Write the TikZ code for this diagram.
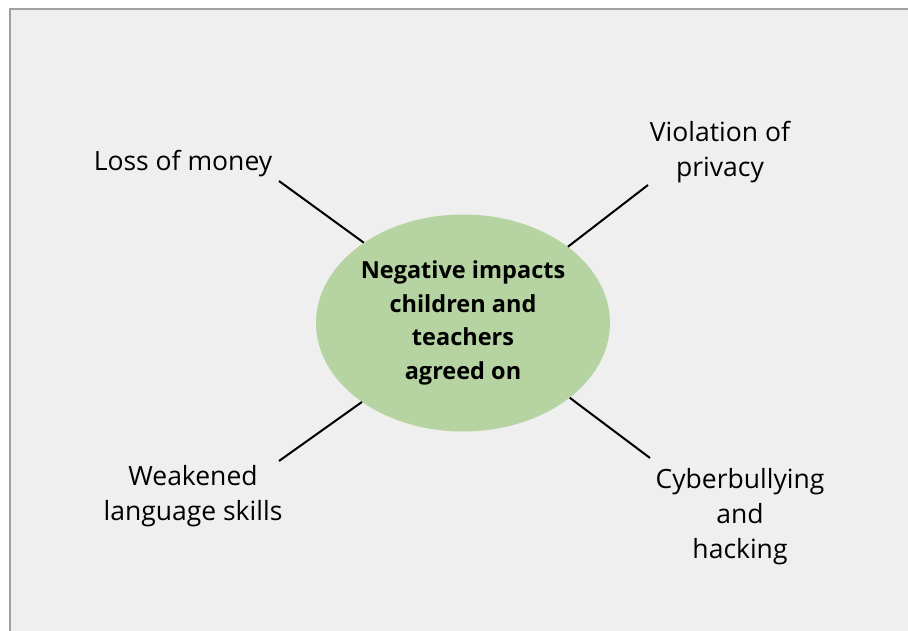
\documentclass[tikz,border=0pt]{standalone}
\usepackage{fontspec}
\setmainfont{Open Sans}
\usepackage{tikz}
\usepackage{xcolor}
\usetikzlibrary{shapes.geometric,positioning}

\definecolor{bggray}{HTML}{EFEFEF}
\definecolor{framegray}{HTML}{A0A0A0}
\definecolor{leafgreen}{HTML}{B6D4A1}

\tikzset{
    impact/.style={align=center, font=\fontsize{26.5}{35}\selectfont, inner sep=0pt},
    spoke/.style={black, line width=2pt},
}

\begin{document}
\begin{tikzpicture}[x=1pt,y=-1pt]
                % Canvas and frame
                \useasboundingbox (0,0) rectangle (908,631);
                \fill[bggray] (10,9) rectangle (908,631);
                \draw[framegray, line width=1.5pt] (10,631) -- (10,9) -- (908,9);

                % Central ellipse
                \node[ellipse, fill=leafgreen, minimum width=294pt, minimum height=217pt,
                      inner sep=0pt, align=center, font=\fontsize{23.5}{33.5}\selectfont\bfseries]
                      (centre) at (463,323) {Negative impacts\\children and\\teachers\\agreed on};

                % Labels round the ellipse
                \node[impact] (money) at (183,164) {Loss of money};
                \node[impact] (privacy) at (720,152) {Violation of\\privacy};
                \node[impact] (language) at (193,496) {Weakened\\language skills};
                \node[impact] (bullying) at (740,517) {Cyberbullying\\and\\hacking};

                % Free ends of the spokes
                \coordinate (moneyend) at (279,181);
                \coordinate (privacyend) at (648,185);
                \coordinate (languageend) at (279,461);
                \coordinate (bullyingend) at (650,458);

                % Spokes
                \draw[spoke] (centre.141) -- (moneyend);
                \draw[spoke] (centre.36) -- (privacyend);
                \draw[spoke] (centre.-142) -- (languageend);
                \draw[spoke] (centre.-35) -- (bullyingend);
            \end{tikzpicture}
\end{document}
